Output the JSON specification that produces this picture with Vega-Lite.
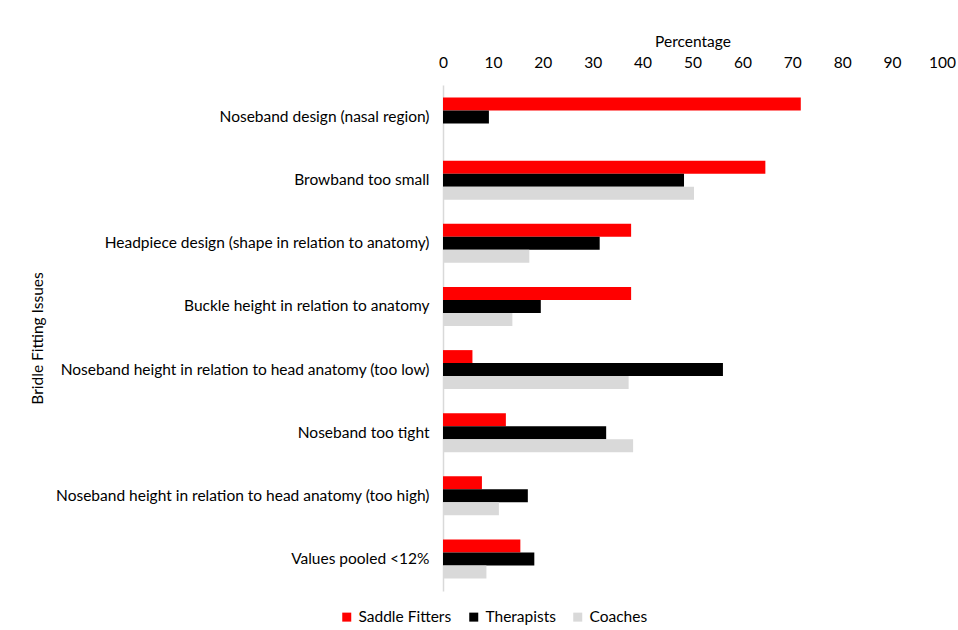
{
  "$schema": "https://vega.github.io/schema/vega-lite/v6.json",
  "width": 499,
  "height": 506,
  "padding": {"left": 30, "top": 34, "right": 0, "bottom": 5},
  "autosize": {"type": "pad"},
  "background": "white",
  "config": {
    "view": {"stroke": null},
    "font": "Lato",
    "axis": {"labelFont": "Lato", "titleFont": "Lato", "labelColor": "#000000", "titleColor": "#000000", "titleFontWeight": "normal"},
    "legend": {"labelFont": "Lato", "labelColor": "#000000"}
  },
  "data": {
    "values": [
      {"issue": "Noseband design (nasal region)", "group": "Saddle Fitters", "pct": 71.7},
      {"issue": "Noseband design (nasal region)", "group": "Therapists", "pct": 9.2},
      {"issue": "Browband too small", "group": "Saddle Fitters", "pct": 64.6},
      {"issue": "Browband too small", "group": "Therapists", "pct": 48.3},
      {"issue": "Browband too small", "group": "Coaches", "pct": 50.3},
      {"issue": "Headpiece design (shape in relation to anatomy)", "group": "Saddle Fitters", "pct": 37.7},
      {"issue": "Headpiece design (shape in relation to anatomy)", "group": "Therapists", "pct": 31.4},
      {"issue": "Headpiece design (shape in relation to anatomy)", "group": "Coaches", "pct": 17.3},
      {"issue": "Buckle height in relation to anatomy", "group": "Saddle Fitters", "pct": 37.7},
      {"issue": "Buckle height in relation to anatomy", "group": "Therapists", "pct": 19.6},
      {"issue": "Buckle height in relation to anatomy", "group": "Coaches", "pct": 13.9},
      {"issue": "Noseband height in relation to head anatomy (too low)", "group": "Saddle Fitters", "pct": 5.9},
      {"issue": "Noseband height in relation to head anatomy (too low)", "group": "Therapists", "pct": 56.1},
      {"issue": "Noseband height in relation to head anatomy (too low)", "group": "Coaches", "pct": 37.2},
      {"issue": "Noseband too tight", "group": "Saddle Fitters", "pct": 12.6},
      {"issue": "Noseband too tight", "group": "Therapists", "pct": 32.7},
      {"issue": "Noseband too tight", "group": "Coaches", "pct": 38.1},
      {"issue": "Noseband height in relation to head anatomy (too high)", "group": "Saddle Fitters", "pct": 7.8},
      {"issue": "Noseband height in relation to head anatomy (too high)", "group": "Therapists", "pct": 17.0},
      {"issue": "Noseband height in relation to head anatomy (too high)", "group": "Coaches", "pct": 11.2},
      {"issue": "Values pooled <12%", "group": "Saddle Fitters", "pct": 15.5},
      {"issue": "Values pooled <12%", "group": "Therapists", "pct": 18.3},
      {"issue": "Values pooled <12%", "group": "Coaches", "pct": 8.7}
    ]
  },
  "mark": {"type": "bar"},
  "encoding": {
    "y": {
      "field": "issue",
      "type": "nominal",
      "sort": null,
      "scale": {"paddingInner": 0.384, "paddingOuter": 0.2},
      "axis": {
        "title": "Bridle Fitting Issues",
        "titleFontSize": 15.5,
        "titleX": -398,
        "titleAnchor": "middle",
        "labelFontSize": 15.5,
        "labelPadding": 14,
        "ticks": false,
        "domainColor": "#D9D9D9",
        "domainWidth": 1.5,
        "labelLimit": 500
      }
    },
    "yOffset": {
      "field": "group",
      "type": "nominal",
      "sort": ["Saddle Fitters", "Therapists", "Coaches"],
      "scale": {"domain": ["Saddle Fitters", "Therapists", "Coaches"], "paddingInner": 0, "paddingOuter": 0}
    },
    "x": {
      "field": "pct",
      "type": "quantitative",
      "scale": {"domain": [0, 100], "nice": false},
      "axis": {
        "orient": "top",
        "title": "Percentage",
        "titleFontSize": 15.5,
        "titlePadding": 6,
        "labelFontSize": 15.5,
        "labelPadding": 15,
        "values": [0, 10, 20, 30, 40, 50, 60, 70, 80, 90, 100],
        "ticks": false,
        "domain": false,
        "grid": false,
        "labelFlush": false
      }
    },
    "color": {
      "field": "group",
      "type": "nominal",
      "sort": ["Saddle Fitters", "Therapists", "Coaches"],
      "scale": {"domain": ["Saddle Fitters", "Therapists", "Coaches"], "range": ["#FF0000", "#000000", "#D9D9D9"]},
      "legend": {
        "orient": "none",
        "legendX": -104,
        "legendY": 524,
        "direction": "horizontal",
        "title": null,
        "symbolType": "square",
        "symbolSize": 81,
        "labelFontSize": 15.5,
        "labelOffset": 4,
        "columnPadding": 14
      }
    }
  }
}
